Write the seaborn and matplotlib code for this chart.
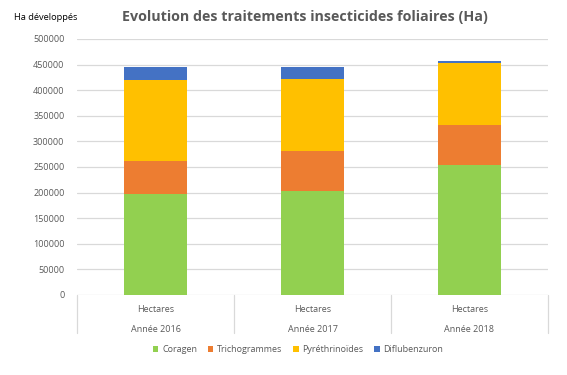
import matplotlib
matplotlib.use("Agg")
import matplotlib.pyplot as plt
import seaborn as sns
import pandas as pd
import numpy as np
from matplotlib.patches import Patch
from matplotlib.lines import Line2D

years = ["Année 2016", "Année 2017", "Année 2018"]
sublabel = "Hectares"
series = ["Coragen", "Trichogrammes", "Pyréthrinoïdes", "Diflubenzuron"]
coragen = [198000, 203000, 254000]
trichogrammes = [64000, 78000, 78000]
pyrethrinoides = [158000, 140000, 121000]
diflubenzuron = [25000, 24000, 4000]
colors = ["#92D050", "#ED7D31", "#FFC000", "#4472C4"]
yticks = list(range(0, 500001, 50000))

sns.set_theme(style="white")
plt.rcParams['font.family'] = ['Open Sans', 'DejaVu Sans']

df = pd.DataFrame({"year": years, "Coragen": coragen, "Trichogrammes": trichogrammes,
                   "Pyréthrinoïdes": pyrethrinoides, "Diflubenzuron": diflubenzuron})
cum = df[series].cumsum(axis=1)

fig = plt.figure(figsize=(5.67, 3.75), dpi=100)
ax = fig.add_axes([77/567, 1-295/375, (548-77)/567, (295-39)/375])

for s, c in reversed(list(zip(series, colors))):
    sns.barplot(x=df["year"], y=cum[s], color=c, width=0.4, saturation=1, ax=ax,
                edgecolor="none", linewidth=0, zorder=3)

ax.set_ylim(0, 500000)
ax.set_xlim(-0.5, 2.5)
ax.set_yticks(yticks)
ax.set_yticklabels([str(v) for v in yticks], fontsize=6.5, color="#595959")
ax.grid(axis="y", color="#D9D9D9", linewidth=0.9, zorder=0)
ax.grid(axis="x", visible=False)
for sp in ax.spines.values():
    sp.set_visible(False)
ax.tick_params(axis="y", length=0, pad=9)
ax.tick_params(axis="x", length=0)
ax.set_xticks([0, 1, 2])
ax.set_xticklabels([sublabel] * 3, fontsize=6.5, color="#595959")
ax.tick_params(axis="x", pad=7)
ax.set_xlabel("")
ax.set_ylabel("")

# second level labels
trans = ax.get_xaxis_transform()
for i, y in enumerate(years):
    ax.text(i, -34/256, y, transform=trans, ha="center", va="center",
            fontsize=6.5, color="#595959")
for xv in [-0.5, 0.5, 1.5, 2.5]:
    ax.add_line(Line2D([xv, xv], [0, -38/256], transform=trans, color="#D9D9D9",
                       linewidth=0.9, clip_on=False))

fig.text(14/567, 1-17/375, "Ha développés", fontsize=6.7, color="#000000", ha="left", va="center")
fig.text(305/567, 1-17/375, "Evolution des traitements insecticides foliaires (Ha)",
         fontsize=10.3, fontweight="bold", color="#595959", ha="center", va="center")

handles = [Patch(facecolor=c, edgecolor="none", label=s) for s, c in zip(series, colors)]
fig.legend(handles=handles, loc="center", bbox_to_anchor=(298/567, 1-350/375), ncol=4,
           frameon=False, fontsize=6.5, handlelength=0.6, handleheight=0.6,
           handletextpad=0.4, columnspacing=1.2, labelcolor="#595959")

fig.savefig("out.png", dpi=100)
